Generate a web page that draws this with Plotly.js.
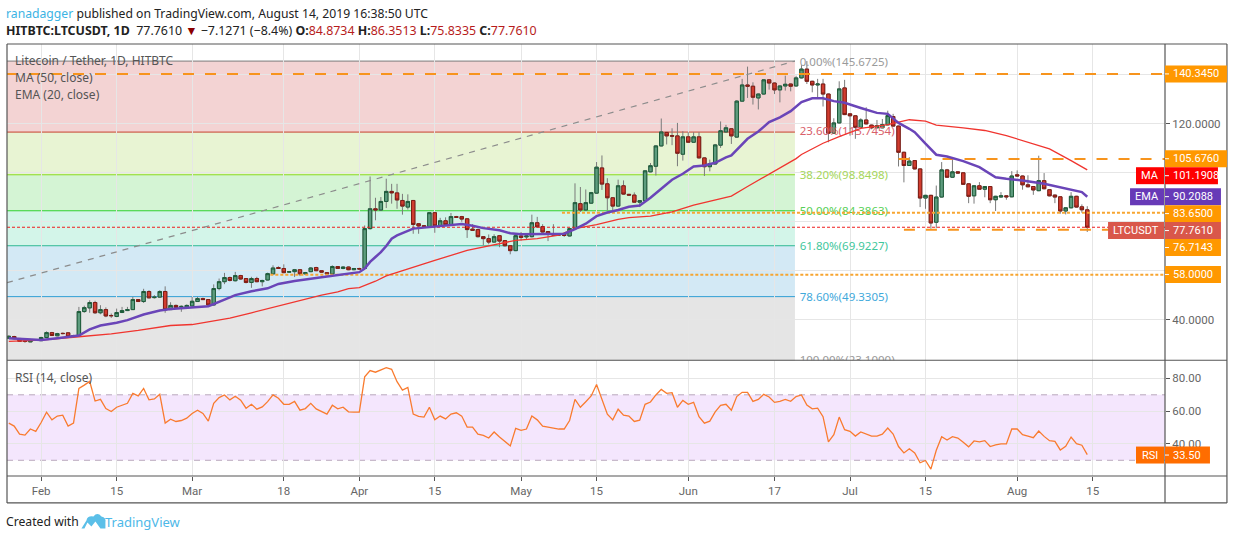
<!DOCTYPE html>
<html><head><meta charset="utf-8">
<script src="https://cdn.plot.ly/plotly-3.0.1.min.js"></script>
<style>html,body{margin:0;padding:0;background:#fff}#c{width:1234px;height:540px}</style>
</head><body><div id="c"></div>
<script>
const firstDay = "2019-01-26";
const openP = [32.4,33.1,32.3,31.3,30.9,31.7,31.4,32.7,34.7,33.4,34.4,34.6,33.1,33.5,43.3,44.8,47.0,42.8,44.1,41.7,41.3,42.9,43.7,44.1,48.2,47.4,51.5,49.0,49.2,51.5,44.1,45.8,45.3,45.2,45.6,47.4,48.6,48.2,46.0,52.7,55.5,57.2,55.9,58.0,56.8,55.2,56.8,55.5,56.2,58.7,61.3,60.9,59.4,59.6,60.4,58.7,59.6,61.3,60.0,59.2,58.7,61.7,60.9,61.5,60.4,60.9,60.9,77.2,85.3,84.8,88.3,92.4,91.8,88.7,86.0,88.7,79.2,78.4,78.1,83.7,78.3,80.4,78.8,82.1,82.1,81.2,77.0,76.8,73.9,73.1,71.7,74.3,72.3,70.2,68.2,74.2,73.8,73.9,79.6,78.0,76.0,75.0,75.0,74.9,74.2,77.2,87.4,84.8,87.6,91.7,102.0,95.5,89.8,86.4,94.7,91.2,90.9,88.0,88.6,100.4,102.7,111.0,116.5,115.2,115.1,107.6,114.7,112.5,114.7,106.1,102.5,103.6,111.3,116.7,118.0,114.6,129.3,135.9,135.4,130.6,132.2,138.0,136.7,133.9,135.5,136.3,135.5,138.8,142.4,137.4,135.9,136.3,132.2,116.2,120.4,134.7,124.1,123.3,118.6,121.6,119.5,118.4,118.4,119.6,123.0,119.1,108.4,103.0,105.0,101.6,89.7,90.8,79.8,90.1,101.2,98.2,100.4,100.0,95.5,90.6,94.7,93.3,94.4,89.0,90.1,90.6,90.2,99.2,98.7,95.1,94.4,92.7,96.8,93.1,90.9,90.2,84.4,85.7,90.4,86.1,84.87];
const highP = [33.6,33.4,32.4,31.4,31.8,32.0,33.0,35.2,35.0,34.6,34.7,34.8,33.8,45.2,45.7,47.9,47.7,45.9,45.0,42.5,44.5,45.2,45.2,49.3,48.4,52.6,52.0,50.0,52.0,53.6,47.1,46.2,45.8,46.2,49.3,49.3,49.0,48.4,54.4,56.8,59.1,57.6,59.5,58.3,57.0,57.5,57.5,56.3,59.2,62.2,61.8,62.6,59.9,60.7,60.6,59.5,61.5,61.6,60.2,59.4,62.2,61.9,61.8,61.7,61.1,61.2,78.5,98.5,89.8,90.1,97.6,95.5,95.5,91.4,91.2,88.9,79.4,78.6,84.0,84.0,81.6,81.8,83.6,82.4,82.4,81.4,79.0,77.2,74.1,74.8,74.9,74.6,72.5,70.4,74.6,75.8,74.6,82.9,82.0,79.0,76.2,79.0,75.2,75.0,77.5,95.7,94.2,93.2,92.2,104.4,107.1,97.8,90.0,97.2,96.9,91.4,92.0,88.8,101.0,104.0,111.2,122.2,116.7,118.2,120.4,117.0,116.6,116.6,116.6,106.3,105.4,111.8,121.0,119.6,118.2,129.7,138.4,143.4,137.0,132.4,138.2,138.2,136.9,135.7,139.7,136.5,139.7,144.0,145.67,137.6,138.4,138.4,132.4,122.3,137.4,138.0,124.3,123.5,122.3,126.8,119.7,121.6,122.0,125.4,124.1,119.3,108.6,106.4,105.2,101.8,91.0,91.0,94.8,104.4,101.6,105.7,100.6,100.2,95.7,94.9,96.2,94.6,94.6,90.6,92.1,90.8,100.7,101.0,98.9,99.0,94.6,107.0,99.9,93.3,91.1,90.4,85.9,92.1,90.6,87.1,86.35];
const lowP = [32.2,32.0,30.9,30.5,30.8,31.4,31.3,32.4,33.3,33.2,34.0,32.8,32.9,33.3,42.8,42.8,42.3,42.2,41.0,40.7,41.0,42.7,43.5,44.0,47.2,46.8,48.7,48.6,49.0,42.8,44.0,44.8,43.2,45.0,45.4,47.2,48.0,45.8,45.8,52.0,54.5,55.6,55.6,56.3,54.8,53.0,55.3,53.6,56.0,58.5,60.7,59.0,59.2,57.4,57.8,58.5,59.4,59.8,59.2,58.5,58.5,60.7,60.6,60.2,60.2,60.5,60.7,76.8,80.6,84.5,85.6,87.4,85.3,82.9,85.0,75.1,75.1,77.8,77.9,75.5,78.1,78.6,78.6,81.6,80.0,73.4,76.3,73.6,70.4,70.8,71.5,69.6,69.9,66.7,68.0,72.3,72.9,73.6,77.5,75.6,72.1,74.4,74.2,73.8,74.0,77.0,84.0,84.5,87.3,91.5,93.0,84.7,84.7,86.2,91.0,90.7,87.8,86.0,88.4,100.2,98.9,110.8,111.6,111.3,102.7,105.0,112.3,112.3,105.9,98.7,100.6,103.4,110.2,116.5,111.8,114.4,129.1,130.6,127.9,125.9,132.0,134.0,132.2,128.8,133.6,133.3,135.3,138.6,136.3,132.9,130.2,127.1,112.5,115.9,120.2,123.6,115.2,113.9,118.4,119.8,117.8,118.2,118.2,119.4,118.9,102.6,96.1,102.8,101.4,86.0,85.3,77.2,77.4,89.9,98.0,98.0,99.7,95.1,87.6,87.4,93.1,90.0,87.6,84.4,89.9,89.0,90.0,98.5,93.1,94.1,91.0,92.5,93.3,90.4,87.6,83.3,83.0,85.5,85.8,83.7,75.83];
const closeP = [33.2,32.2,31.1,31.1,31.7,31.5,32.7,34.7,33.5,34.3,34.3,33.0,33.5,43.3,44.9,47.0,42.8,44.1,41.5,41.6,42.9,43.7,44.1,48.2,47.4,51.5,48.9,49.2,51.5,44.0,45.8,45.0,45.4,45.8,47.5,48.6,48.2,46.0,52.7,55.5,57.2,56.0,58.0,56.6,55.2,56.8,55.5,56.0,58.8,61.1,60.9,59.2,59.6,60.4,58.7,59.2,61.1,60.0,59.4,58.7,61.7,60.9,61.5,60.4,60.9,60.7,77.2,85.3,84.8,88.3,92.4,91.8,88.9,86.4,88.3,78.9,78.3,78.0,83.7,78.3,80.4,78.8,82.1,81.8,81.1,76.8,76.5,73.9,73.1,71.7,73.9,72.1,70.2,68.2,74.3,73.6,74.2,79.6,77.9,75.8,75.0,74.6,74.6,74.4,77.2,87.8,84.8,87.8,91.9,102.3,95.4,89.8,86.4,94.7,91.3,90.9,88.0,88.6,100.8,102.9,111.0,116.7,115.1,115.0,108.0,114.7,112.5,114.7,106.1,102.5,103.7,111.4,117.2,118.4,115.1,129.3,135.9,135.4,130.9,132.2,138.0,136.7,133.9,135.5,136.2,135.4,138.8,142.4,137.4,135.9,136.3,132.2,116.2,120.4,134.3,123.8,123.3,118.6,121.6,120.0,118.4,119.3,119.7,123.4,119.1,108.4,103.0,104.8,101.6,89.7,90.8,79.5,90.1,101.2,98.2,100.4,99.9,95.3,90.4,94.7,93.3,94.4,89.0,90.4,90.6,90.2,98.7,98.7,95.1,94.3,93.0,96.8,93.5,90.6,90.1,84.4,85.7,90.4,86.0,84.9,77.76];
const rsiVal = [52.7,50.9,46.0,45.4,49.1,47.7,53.1,59.4,54.7,57.0,57.6,50.9,52.7,73.9,75.9,78.2,66.2,67.2,61.6,59.8,62.4,63.6,64.8,70.9,69.3,73.9,66.9,67.5,70.3,52.7,55.1,53.7,54.3,55.7,58.6,60.6,58.6,53.9,64.8,68.3,69.9,66.9,69.1,66.7,61.8,64.2,61.2,62.6,65.8,69.9,67.9,64.2,64.2,66.0,60.6,61.6,64.8,61.4,59.6,58.2,63.6,61.4,62.4,59.6,59.4,59.4,81.0,84.8,83.8,85.4,86.6,85.6,78.0,72.9,74.5,58.2,56.8,56.4,62.4,54.7,57.0,55.3,58.2,59.0,57.0,50.3,50.3,46.0,45.2,43.6,47.3,44.2,41.6,38.8,49.5,48.3,49.1,57.0,54.7,50.9,50.3,49.7,49.1,49.1,54.3,67.2,62.4,65.8,69.3,76.3,66.9,58.2,54.7,61.2,57.6,57.0,53.7,54.5,64.2,65.6,69.9,73.3,70.9,71.3,62.4,66.6,64.2,65.4,56.6,52.7,53.9,59.6,63.6,64.2,60.6,68.9,71.5,71.5,66.0,67.2,70.3,68.7,65.4,66.0,67.2,66.0,68.9,69.9,63.8,61.4,61.8,56.6,41.2,45.6,56.4,48.7,47.7,44.8,47.3,46.0,44.8,44.8,46.0,49.7,46.0,38.4,34.5,37.0,34.5,28.5,29.9,24.6,36.1,44.4,42.4,44.4,43.6,41.0,38.2,41.8,41.2,42.0,38.4,39.4,40.0,40.0,49.1,49.1,45.6,44.8,43.8,47.9,44.6,42.0,41.6,36.3,38.6,44.2,40.2,39.2,33.5];
// moving averages: day offsets from 1 Feb 2019 and their values
const emaDay = [-6,-3,0,3,6,7,9,11,14,16,19,22,24,27,31,34,36,39,42,44,47,51,54,57,59,60,61,62,63,64,65,66,69,71,73,76,78,80,82,85,87,89,91,94,97,99,101,103,105,107,109,111,113,115,117,119,121,123,125,127,128,131,133,135,137,139,141,143,145,147,149,152,155,157,159,161,162,164,166,168,171,174,177,179,182,186,189,193,194];
const emaVal = [32.4,31.9,31.7,32.4,33.1,33.5,36.0,37.6,38.7,39.8,42.1,43.7,44.3,44.7,45.5,48.2,50.0,51.6,52.8,54.6,55.8,57.0,58.0,58.7,59.4,60.9,63.6,65.6,67.6,70.1,73.1,74.4,77.2,77.6,78.1,78.8,79.1,78.4,77.4,76.5,75.3,74.9,75.0,75.1,75.1,77.0,79.2,82.3,83.8,84.8,86.1,86.6,89.8,93.5,97.2,99.6,102.6,103.0,104.1,106.3,107.1,113.9,116.9,120.7,122.7,125.2,128.9,130.5,130.5,129.3,128.6,126.5,124.5,124.1,120.4,118.0,116.6,111.9,107.4,106.7,104.8,102.3,98.2,97.6,96.9,95.5,94.0,92.1,90.2];
const maDay = [-6,0,7,13,18,24,28,35,39,44,48,52,55,57,59,62,64,67,73,79,83,88,92,96,99,103,107,109,113,117,121,125,128,131,134,137,140,141,145,148,152,157,161,164,166,171,175,179,183,187,191,194];
const maVal = [31.1,31.6,33.0,34.2,35.6,37.6,38.0,40.6,42.8,45.5,47.7,50.0,51.3,52.7,53.1,55.7,57.9,59.9,64.2,68.3,70.1,72.4,73.1,74.5,77.2,78.8,81.0,81.7,82.3,84.0,86.8,89.0,90.5,94.4,98.2,102.3,105.8,107.5,112.1,114.8,118.2,119.7,121.7,121.1,119.5,118.4,117.3,115.2,112.5,109.8,105.0,101.2];
const fibDrawn = [145.67,116.65,99.2,84.5,70.2,49.4,23.1];
const fibLabelAt = [145.0,116.65,98.6,83.9,69.6,48.8,23.0];
const fibLabels = ["0.00%(145.6725)","23.60%(115.7454)","38.20%(98.8498)","50.00%(84.3863)","61.80%(69.9227)","78.60%(49.3305)","100.00%(23.1000)"];
const fibFill = ["rgba(195,35,35,.2)","rgba(140,200,35,.2)","rgba(40,200,40,.2)","rgba(35,205,145,.2)","rgba(35,145,205,.2)","rgba(125,125,125,.2)"];
const fibLine = ["#7a7a7a","#c8402e","#8ad91e","#2fd02f","#2fb993","#2f9fd4","#8a8a8a"];
const fibText = ["#9a9a9a","#d9606a","#a5d65a","#55cf55","#3fc79c","#3fa9db","#9a9a9a"];
const xTickDates = ["2019-02-01","2019-02-15","2019-03-01","2019-03-18","2019-04-01","2019-04-15","2019-05-01","2019-05-15","2019-06-01","2019-06-17","2019-07-01","2019-07-15","2019-08-01","2019-08-15"];
const xTickText = ["Feb","15","Mar","18","Apr","15","May","15","Jun","17","Jul","15","Aug","15"];
const priceTicks = [40,60,80,100,120,140];
const priceTickText = ["40.0000","","","","120.0000",""];
const lineStart = ["2019-01-25 16:00","2019-07-10","2019-05-08 14:00","2019-07-11","2019-03-15 12:00"];
const lineLevel = [140.345,105.676,83.65,76.7143,58.3];
const boxLabels = [
 {v:"140.3450",c:"#ff9800",y:73.5,w:62},
 {v:"105.6760",c:"#ff9800",y:158.5,w:62},
 {v:"101.1908",c:"#ff0000",y:175.5,w:53,n:"MA",nw:28},
 {v:"90.2088",c:"#673ab7",y:196.5,w:56,n:"EMA",nw:34},
 {v:"83.6500",c:"#ff9800",y:213.5,w:56},
 {v:"76.7143",c:"#ff9800",y:247.5,w:56},
 {v:"77.7610",c:"#d9574a",y:230.5,w:56,n:"LTCUSDT",nw:56},
 {v:"58.0000",c:"#ff9800",y:274.5,w:56},
 {v:"33.50",c:"#ff6d00",y:455.5,w:45,n:"RSI",nw:28}
];

const F = '"Noto Sans","Open Sans",sans-serif';
const NF = 'Roboto,"Noto Sans",sans-serif';
const M = {l:6.5,r:68.5,t:43.5,b:63.5}, W=1234, H=540;
const px = x => (x-M.l)/(W-M.l-M.r);
const py = y => (H-M.b-y)/(H-M.t-M.b);
function dayStr(k){const d=new Date(Date.UTC(2019,0,26)+k*864e5);return d.toISOString().slice(0,10);}
const dates = openP.map((_,i)=>dayStr(i));
const fromFeb = a => a.map(k=>dayStr(k+6));
const xL="2019-01-25 16:00", xR="2019-08-28 10:00", fibEnd="2019-06-20 19:00";

const bodyHi = openP.map((o,i)=>Math.max(o,closeP[i]));
const bodyLo = openP.map((o,i)=>Math.min(o,closeP[i]));

const levelTraces = lineLevel.map((v,i)=>{
 const dotted=(i===2||i===4);
 return {type:"scatter",mode:"lines",x:[lineStart[i],xR],y:[v,v],hoverinfo:"skip",xaxis:"x",yaxis:"y",
  line:{color:dotted?"#f7a530":"#f7941d",width:2,dash:dotted?"3px,2px":"11px,11px"}};
});
const traces = [
 {type:"scatter",mode:"text",x:fibLabels.map(()=>"2019-06-21 16:00"),y:fibLabelAt,
  text:fibLabels,textposition:"middle right",textfont:{family:F,size:11.5,color:fibText},xaxis:"x",yaxis:"y",cliponaxis:true,hoverinfo:"skip"},
 {type:"scatter",mode:"lines",x:[xL,xR],y:[77.761,77.761],line:{color:"#f01e1e",width:1.2,dash:"3px,2px"},xaxis:"x",yaxis:"y",hoverinfo:"skip"},
 ...levelTraces,
 {type:"scatter",mode:"lines",x:[xL,fibEnd],y:[55.1,145.67],line:{color:"#8c8c8c",width:1.2,dash:"6px,6px"},xaxis:"x",yaxis:"y",hoverinfo:"skip"},
 {type:"scatter",mode:"lines",x:fromFeb(maDay),y:maVal,line:{color:"#f0352f",width:1.3},xaxis:"x",yaxis:"y",hoverinfo:"skip"},
 {type:"scatter",mode:"lines",x:fromFeb(emaDay),y:emaVal,line:{color:"#6a45b8",width:2.5},xaxis:"x",yaxis:"y",hoverinfo:"skip"},
 {type:"candlestick",x:dates,open:openP,high:highP,low:lowP,close:closeP,whiskerwidth:0,
  increasing:{line:{color:"#7a7a7a",width:1},fillcolor:"#5d9c7e"},decreasing:{line:{color:"#7a7a7a",width:1},fillcolor:"#d13c2f"},xaxis:"x",yaxis:"y",hoverinfo:"skip"},
 {type:"candlestick",x:dates,open:openP,high:bodyHi,low:bodyLo,close:closeP,whiskerwidth:0,
  increasing:{line:{color:"#1d5c3a",width:1},fillcolor:"#5d9c7e"},decreasing:{line:{color:"#7f1d15",width:1},fillcolor:"#d13c2f"},xaxis:"x",yaxis:"y",hoverinfo:"skip"},
 {type:"scatter",mode:"lines",x:dates,y:rsiVal,line:{color:"#f97b2f",width:1.3},xaxis:"x",yaxis:"y2",hoverinfo:"skip"}
];

const shapes = [];
for(let i=0;i<fibFill.length;i++) shapes.push({type:"rect",xref:"x",yref:"y",x0:xL,x1:fibEnd,y0:fibDrawn[i+1],y1:fibDrawn[i],fillcolor:fibFill[i],line:{width:0},layer:"below"});
fibDrawn.forEach((v,i)=>shapes.push({type:"line",xref:"x",yref:"y",x0:xL,x1:fibEnd,y0:v,y1:v,line:{color:fibLine[i],width:1},layer:"below"}));
shapes.push({type:"rect",xref:"x",yref:"y2",x0:xL,x1:xR,y0:30,y1:70,fillcolor:"rgba(145,5,235,.1)",line:{width:0},layer:"below"});
[70,30].forEach(v=>shapes.push({type:"line",xref:"x",yref:"y2",x0:xL,x1:xR,y0:v,y1:v,line:{color:"#b9a9bd",width:1,dash:"6px,5px"},layer:"below"}));

const ann = [];
const frame = "#555555";
[[6.5,43.5,1227.5,43.5],[6.5,503.5,1227.5,503.5],[6.5,43.5,6.5,503.5],[1227.5,43.5,1227.5,503.5],[1165.5,43.5,1165.5,503.5],[6.5,360.5,1227.5,360.5],[6.5,476.5,1227.5,476.5]].forEach(s=>
 shapes.push({type:"line",xref:"paper",yref:"paper",x0:px(s[0]),x1:px(s[2]),y0:py(s[1]),y1:py(s[3]),line:{color:frame,width:1.2},layer:"above"}));

function note(x,y,text,opt){ann.push(Object.assign({xref:"paper",yref:"paper",x:px(x),y:py(y),text:text,showarrow:false,xanchor:"left",yanchor:"middle",font:{family:F,size:12,color:"#555"},align:"left"},opt||{}));}
boxLabels.forEach(b=>{
 const h=8.5, X0=1165.5;
 shapes.push({type:"rect",xref:"paper",yref:"paper",x0:px(X0),x1:px(X0+b.w),y0:py(b.y+h),y1:py(b.y-h),fillcolor:b.c,line:{width:0},layer:"above"});
 shapes.push({type:"line",xref:"paper",yref:"paper",x0:px(X0),x1:px(X0+4),y0:py(b.y),y1:py(b.y),line:{color:"#fff",width:1},layer:"above"});
 note(X0+6,b.y,b.v,{font:{family:NF,size:11,color:"#fff"}});
 if(b.n){
  shapes.push({type:"rect",xref:"paper",yref:"paper",x0:px(X0-1-b.nw),x1:px(X0-1),y0:py(b.y+h),y1:py(b.y-h),fillcolor:b.c,line:{width:0},layer:"above"});
  note(X0-1-b.nw/2,b.y,b.n,{xanchor:"center",font:{family:NF,size:11,color:"#fff"}});
 }
});
note(13,60.5,"Litecoin / Tether, 1D, HITBTC");
note(13,77.5,"MA (50, close)");
note(13,94.5,"EMA (20, close)");
note(13,377.5,"RSI (14, close)");
note(3,12.5,'<span style="color:#3bb3e4">ranadagger</span> published on TradingView.com, August 14, 2019 16:38:50 UTC',{font:{family:F,size:12.2,color:"#222"}});
const R='#b71c1c';
note(3,29.5,`<b>HITBTC:LTCUSDT, 1D</b>  77.7610 <span style="color:#8b0000">▼</span> −7.1271 (−8.4%) <b>O:</b><span style="color:${R}">84.8734</span> <b>H:</b><span style="color:${R}">86.3513</span> <b>L:</b><span style="color:${R}">75.8335</span> <b>C:</b><span style="color:${R}">77.7610</span>`,{font:{family:F,size:12.4,color:"#222"}});
note(3,522.5,'Created with',{font:{family:F,size:12.2,color:"#222"}});
note(103,522.5,'TradingView',{font:{family:F,size:13,color:"#4db8e8"}});
const P=(x,y)=>px(x).toFixed(5)+","+py(y).toFixed(5);
shapes.push({type:"path",xref:"paper",yref:"paper",fillcolor:"#5bbfe8",line:{width:0},layer:"above",
 path:`M${P(81,529)} L${P(86,521)} Q${P(87,516)} ${P(93,517)} Q${P(97,512)} ${P(101,517)} Q${P(106,518)} ${P(105,523)} L${P(105,529)} L${P(100,529)} L${P(95,522)} L${P(91,527)} L${P(87,523)} L${P(84,529)} Z`});

const grid="#e6e6e6";
const tf={family:NF,size:11.5,color:"#666"};
const split=(H-M.b-360.5)/(H-M.t-M.b);
const layout={
 width:W,height:H,margin:M,paper_bgcolor:"#fff",plot_bgcolor:"#fff",showlegend:false,hovermode:false,boxmode:"overlay",boxgap:0.1,
 font:{family:F,size:12,color:"#666"},
 xaxis:{type:"date",range:[xL,xR],tickvals:xTickDates,ticktext:xTickText,anchor:"y2",showgrid:true,gridcolor:grid,gridwidth:1,
  ticks:"outside",ticklen:4,tickcolor:frame,tickfont:tf,rangeslider:{visible:false},zeroline:false,showline:false},
 yaxis:{domain:[split,1],range:[23.39,152.65],side:"right",tickvals:priceTicks,ticktext:priceTickText,showgrid:true,gridcolor:grid,zeroline:false,
  ticks:"outside",ticklen:4,tickcolor:frame,tickfont:tf,anchor:"x"},
 yaxis2:{domain:[0,split],range:[20.4,91.1],side:"right",tickvals:[40,60,80],tickformat:".2f",showgrid:true,gridcolor:grid,zeroline:false,
  ticks:"outside",ticklen:4,tickcolor:frame,tickfont:tf,anchor:"x"},
 shapes:shapes,annotations:ann
};
Plotly.newPlot("c",traces,layout,{staticPlot:true,displayModeBar:false});
</script></body></html>
